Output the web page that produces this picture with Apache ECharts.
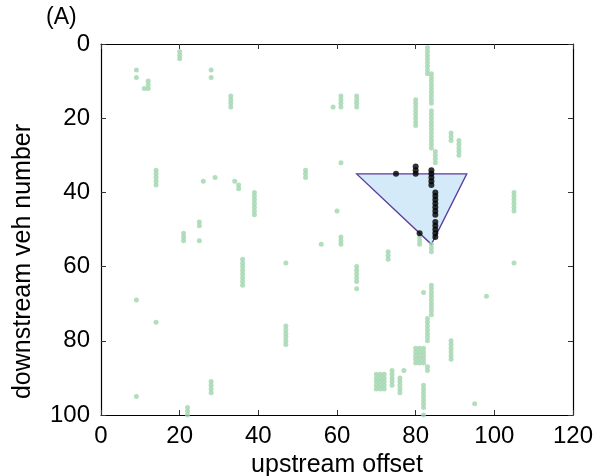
<!DOCTYPE html>
<html>
<head>
<meta charset="utf-8">
<script src="https://cdn.jsdelivr.net/npm/echarts@6/dist/echarts.min.js"></script>
<style>
  html, body { margin: 0; padding: 0; background: #fff; }
  #chart { width: 596px; height: 476px; }
</style>
</head>
<body>
<div id="chart"></div>
<script>
// axis ticks
const xTicks = [0, 20, 40, 60, 80, 100, 120];
const yTicks = [0, 20, 40, 60, 80, 100];

// green points: [upstream offset, downstream veh number]
const greenPoints = [
  [20, 2], [20, 3], [20, 4],
  [9, 7], [9, 9],
  [11, 12], [12, 10], [12, 11], [12, 12],
  [28, 7], [28, 9],
  [33, 14], [33, 15], [33, 16], [33, 17],
  [14, 34], [14, 35], [14, 36], [14, 37], [14, 38],
  [26, 37], [29, 36],
  [34, 37], [35, 38], [35, 39],
  [39, 40], [39, 41], [39, 42], [39, 43], [39, 44], [39, 45], [39, 46],
  [25, 48], [25, 49], [25, 53],
  [21, 51], [21, 52], [21, 53],
  [59, 17],
  [61, 14], [61, 15], [61, 16], [61, 17],
  [65, 14], [65, 15], [65, 16], [65, 17],
  [80, 15], [80, 16], [80, 17], [80, 18], [80, 19], [80, 20], [80, 21], [80, 22],
  [83, 1], [83, 2], [83, 3], [83, 4], [83, 5], [83, 6], [83, 7], [83, 8],
  [84, 8], [84, 9], [84, 10], [84, 11], [84, 12], [84, 13], [84, 14], [84, 15], [84, 16],
  [84, 18], [84, 19], [84, 20], [84, 21], [84, 22], [84, 23], [84, 24], [84, 25],
  [84, 26], [84, 27], [84, 28],
  [85, 29], [85, 30], [85, 31], [85, 32],
  [61, 32],
  [52, 34], [52, 35], [52, 36],
  [60, 45],
  [89, 24], [89, 25], [89, 26],
  [91, 26], [91, 27], [91, 28], [91, 29], [91, 30],
  [105, 40], [105, 41], [105, 42], [105, 43], [105, 44], [105, 45],
  [36, 58], [36, 59], [36, 60], [36, 61], [36, 62], [36, 63], [36, 64], [36, 65],
  [9, 69], [14, 75], [9, 95],
  [28, 91], [28, 92], [28, 93], [28, 94],
  [22, 98], [22, 99], [22, 100],
  [56, 54],
  [61, 52], [61, 53], [61, 54],
  [47, 59],
  [73, 56], [73, 57], [73, 58],
  [65, 60], [65, 61], [65, 62], [65, 63], [65, 64], [65, 66],
  [81, 52], [81, 53], [81, 54],
  [82, 67],
  [47, 76], [47, 77], [47, 78], [47, 79], [47, 80], [47, 81],
  [80, 82], [80, 83], [80, 84], [80, 85], [80, 86],
  [81, 82], [81, 83], [81, 84], [81, 85], [81, 86],
  [82, 82], [82, 83], [82, 84], [82, 85], [82, 86],
  [83, 74], [83, 75], [83, 76], [83, 77], [83, 78], [83, 79], [83, 80],
  [83, 87], [83, 88],
  [82, 92], [82, 93], [82, 94], [82, 95], [82, 96], [82, 97], [82, 98], [82, 100],
  [70, 89], [70, 90], [70, 91], [70, 92], [70, 93],
  [71, 89], [71, 90], [71, 91], [71, 92], [71, 93],
  [72, 89], [72, 90], [72, 91], [72, 92], [72, 93],
  [74, 88], [74, 89], [74, 90], [74, 91], [74, 92],
  [76, 90], [76, 91], [76, 92], [76, 93], [76, 94],
  [77, 88],
  [84, 54], [84, 55], [84, 56],
  [84, 65], [84, 66], [84, 67], [84, 68], [84, 69], [84, 70], [84, 71], [84, 72], [84, 73],
  [105, 59], [98, 68],
  [89, 80], [89, 81], [89, 82], [89, 83], [89, 84], [89, 85],
  [95, 97]
];

// black points
const blackPoints = [
  [75, 35],
  [80, 33], [80, 34], [80, 35],
  [84, 34], [84, 35], [84, 36], [84, 37], [84, 38],
  [85, 40], [85, 41], [85, 42], [85, 43], [85, 44], [85, 45], [85, 46],
  [85, 48], [85, 49], [85, 50], [85, 51], [85, 52],
  [81, 51]
];

// triangle vertices
const triangleX = [65, 93, 84];
const triangleY = [35, 35, 54];

const chart = echarts.init(document.getElementById('chart'));

const font = '"Liberation Sans", Arial, sans-serif';
const axisCommon = {
  type: 'value',
  interval: 20,
  splitLine: { show: false },
  axisLine: { show: true, onZero: false, lineStyle: { color: '#000', width: 1.2 } },
  axisTick: { show: true, inside: true, length: 5, lineStyle: { color: '#333', width: 1 } }
};

chart.setOption({
  animation: false,
  backgroundColor: '#fff',
  grid: { left: 101, right: 23, top: 44, bottom: 61, containLabel: false, outerBoundsMode: 'none' },
  graphic: [{
    type: 'text',
    left: 46,
    top: 6,
    style: { text: '(A)', font: '23px ' + font, fill: '#000' }
  }],
  xAxis: [
    Object.assign({}, axisCommon, {
      min: xTicks[0], max: xTicks[xTicks.length - 1],
      position: 'bottom',
      name: 'upstream offset',
      nameLocation: 'middle',
      nameGap: 30,
      nameTextStyle: { fontFamily: font, fontSize: 25, color: '#000' },
      axisLabel: { fontFamily: font, fontSize: 24, color: '#000', margin: 9 }
    }),
    Object.assign({}, axisCommon, {
      min: xTicks[0], max: xTicks[xTicks.length - 1],
      position: 'top',
      axisLabel: { show: false }
    })
  ],
  yAxis: [
    Object.assign({}, axisCommon, {
      min: yTicks[0], max: yTicks[yTicks.length - 1],
      inverse: true,
      position: 'left',
      name: 'downstream veh number',
      nameLocation: 'middle',
      nameRotate: 90,
      nameGap: 65,
      nameTextStyle: { fontFamily: font, fontSize: 25, color: '#000', padding: [0, 64, 0, 0] },
      axisLabel: { fontFamily: font, fontSize: 24, color: '#000', margin: 11 }
    }),
    Object.assign({}, axisCommon, {
      min: yTicks[0], max: yTicks[yTicks.length - 1],
      inverse: true,
      position: 'right',
      axisLabel: { show: false }
    })
  ],
  series: [
    {
      type: 'custom',
      z: 1,
      silent: true,
      data: triangleX.map((x, i) => [x, triangleY[i]]),
      renderItem: function (params, api) {
        if (params.dataIndex !== 0) return null;
        const pts = triangleX.map((x, i) => api.coord([x, triangleY[i]]));
        return {
          type: 'polygon',
          shape: { points: pts },
          style: { fill: '#d4eaf9', stroke: '#5c3a9e', lineWidth: 1.3 }
        };
      }
    },
    {
      type: 'scatter',
      z: 2,
      symbol: 'circle',
      symbolSize: 5,
      itemStyle: { color: '#a0d6ae' },
      data: greenPoints
    },
    {
      type: 'scatter',
      z: 3,
      symbol: 'circle',
      symbolSize: 6,
      itemStyle: { color: '#000' },
      data: blackPoints
    }
  ]
});
</script>
</body>
</html>
